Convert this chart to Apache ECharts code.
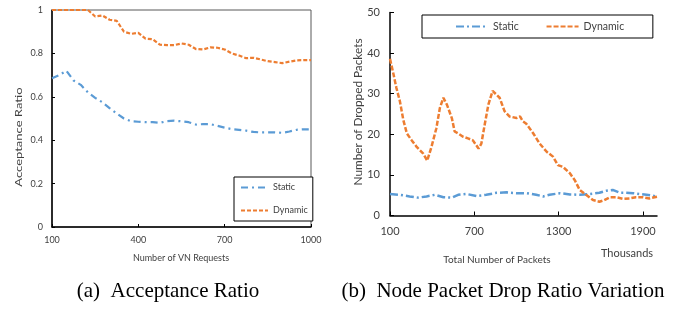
<!DOCTYPE html>
<html>
<head>
  <meta charset="UTF-8">
  <title>Acceptance ratio / packet drops</title>
  <script src="https://cdn.jsdelivr.net/npm/echarts@6/dist/echarts.min.js"></script>
  <style>
    html, body { margin: 0; padding: 0; background: #fff; }
    #main { width: 687px; height: 310px; }
  </style>
</head>
<body>
<div id="main"></div>
<script>
  // (a) acceptance ratio vs number of VN requests
  var reqX = [100,125,150,175,200,225,250,275,300,325,350,375,400,425,450,475,500,525,550,575,600,625,650,675,700,725,750,775,800,825,850,875,900,925,950,975,1000];
  var staticRatio = [0.685,0.7,0.72,0.675,0.655,0.62,0.595,0.575,0.548,0.523,0.5,0.487,0.485,0.483,0.483,0.48,0.488,0.49,0.487,0.483,0.472,0.474,0.474,0.466,0.458,0.451,0.448,0.444,0.438,0.436,0.436,0.436,0.434,0.44,0.448,0.45,0.45];
  var dynamicRatio = [1,1,1,1,1,1,0.97,0.975,0.955,0.95,0.9,0.89,0.895,0.868,0.865,0.84,0.838,0.838,0.846,0.84,0.82,0.818,0.828,0.826,0.818,0.8,0.79,0.778,0.78,0.772,0.764,0.76,0.755,0.762,0.768,0.769,0.769];
  var reqTicks = [100, 400, 700, 1000];

  // (b) dropped packets vs total packets (thousands)
  var dropX = [100,125,145,170,195,220,255,290,335,365,395,430,455,480,505,540,560,585,620,655,690,730,750,775,800,830,880,915,950,1000,1025,1045,1070,1120,1165,1215,1260,1295,1330,1380,1415,1450,1495,1545,1590,1625,1665,1710,1760,1805,1850,1900,1945,2000];
  var dynamicDrops = [38.6,34.8,31.5,28.2,23.5,20.2,18.5,16.9,15.3,13.5,16.9,21.5,26.5,29,27.3,24,20.7,20.2,19.4,19,18.5,16.5,17.7,22.6,27.3,30.7,29,25.7,24.4,24,24.4,23.2,22.6,20.2,17.7,15.7,14.5,12.4,12,10.4,8.7,6.3,5.1,3.8,3.4,3.8,4.5,4.5,4.1,4.2,4.5,4.5,4.2,4.6];
  var staticX = [100,170,240,300,360,420,480,540,585,645,715,785,860,930,1000,1070,1140,1190,1235,1310,1380,1450,1520,1590,1640,1685,1735,1780,1830,1875,1925,2000];
  var staticDrops = [5.3,5.1,4.7,4.4,4.7,5.1,4.5,4.4,5.1,5.3,4.8,5.1,5.6,5.7,5.5,5.5,5.1,4.7,5.1,5.5,5.2,5.1,5.3,5.6,6.1,6.3,5.6,5.6,5.5,5.3,5.1,4.7];
  var packetTicks = [100, 700, 1300, 1900];

  var BLUE = '#5b9bd5', ORANGE = '#ed7d31';
  var FONT = 'Lato';
  var TXT = '#404040';

  function zip(xs, ys) {
    return xs.map(function (x, i) { return [x, ys[i]]; });
  }
  function plain(v) { return String(v); }

  var chart = echarts.init(document.getElementById('main'));
  chart.setOption({
    animation: false,
    textStyle: { fontFamily: FONT },
    grid: [
      { left: 52, top: 10, width: 259, height: 217, show: true, borderColor: '#595959', borderWidth: 1 },
      { left: 390, top: 12.5, width: 267, height: 203 }
    ],
    xAxis: [
      {
        gridIndex: 0, type: 'value', min: 100, max: 1000,
        axisLine: { lineStyle: { color: '#000', width: 1.5 } },
        axisTick: { inside: true, length: 3, customValues: reqTicks, lineStyle: { color: '#000' } },
        axisLabel: { customValues: reqTicks, formatter: plain, color: TXT, fontSize: 9, margin: 9 },
        splitLine: { show: false }
      },
      {
        gridIndex: 1, type: 'value', min: 100, max: 2000,
        axisLine: { lineStyle: { color: '#000', width: 1.5 } },
        axisTick: { inside: true, length: 4, customValues: packetTicks, lineStyle: { color: '#000' } },
        axisLabel: { customValues: packetTicks, formatter: plain, color: TXT, fontSize: 11, margin: 10 },
        splitLine: { show: false }
      }
    ],
    yAxis: [
      {
        gridIndex: 0, type: 'value', min: 0, max: 1, interval: 0.2,
        axisLine: { show: true, lineStyle: { color: '#000', width: 1.5 } },
        axisTick: { show: true, inside: true, length: 3, lineStyle: { color: '#000' } },
        axisLabel: { color: TXT, fontSize: 9, margin: 9 },
        splitLine: { show: false }
      },
      {
        gridIndex: 1, type: 'value', min: 0, max: 50, interval: 10,
        axisLine: { show: true, lineStyle: { color: '#000', width: 1.5 } },
        axisTick: { show: true, inside: true, length: 4, lineStyle: { color: '#000' } },
        axisLabel: { color: TXT, fontSize: 11, margin: 10 },
        splitLine: { show: false }
      }
    ],
    legend: [
      {
        data: ['Static', 'Dynamic'], orient: 'vertical',
        left: 234, top: 177, padding: [6, 5, 6, 6], itemGap: 14,
        itemWidth: 27, itemHeight: 10,
        itemStyle: { opacity: 0 },
        borderColor: '#000', borderWidth: 1, backgroundColor: '#fff',
        textStyle: { color: TXT, fontSize: 9, fontFamily: FONT }
      },
      {
        data: ['Static ', 'Dynamic '], orient: 'horizontal',
        left: 422, top: 15, padding: [6, 26, 6, 33], itemGap: 24,
        itemWidth: 32, itemHeight: 10,
        itemStyle: { opacity: 0 },
        borderColor: '#000', borderWidth: 1, backgroundColor: '#fff',
        textStyle: { color: TXT, fontSize: 10.5, fontFamily: FONT }
      }
    ],
    series: [
      {
        name: 'Static', type: 'line', xAxisIndex: 0, yAxisIndex: 0,
        data: zip(reqX, staticRatio), symbol: 'none', color: BLUE,
        lineStyle: { color: BLUE, width: 2.2, type: [7, 4, 2, 4] }
      },
      {
        name: 'Dynamic', type: 'line', xAxisIndex: 0, yAxisIndex: 0,
        data: zip(reqX, dynamicRatio), symbol: 'none', color: ORANGE,
        lineStyle: { color: ORANGE, width: 2.2, type: [4, 2] }
      },
      {
        name: 'Static ', type: 'line', xAxisIndex: 1, yAxisIndex: 1,
        data: zip(staticX, staticDrops), symbol: 'none', color: BLUE,
        lineStyle: { color: BLUE, width: 2.5, type: [8, 3, 2, 3] }
      },
      {
        name: 'Dynamic ', type: 'line', xAxisIndex: 1, yAxisIndex: 1,
        data: zip(dropX, dynamicDrops), symbol: 'none', color: ORANGE,
        lineStyle: { color: ORANGE, width: 2.5, type: [5, 2] }
      }
    ],
    graphic: [
      { type: 'text', x: 18.5, y: 137, rotation: Math.PI / 2, scaleX: 1.3,
        style: { text: 'Acceptance Ratio', fill: TXT, font: '10px ' + FONT, textAlign: 'center', textVerticalAlign: 'middle' } },
      { type: 'text', x: 181, y: 258,
        style: { text: 'Number of VN Requests', fill: TXT, font: '9px ' + FONT, textAlign: 'center', textVerticalAlign: 'middle' } },
      { type: 'text', x: 358, y: 112, rotation: Math.PI / 2, scaleX: 1.07,
        style: { text: 'Number of Dropped Packets', fill: TXT, font: '11px ' + FONT, textAlign: 'center', textVerticalAlign: 'middle' } },
      { type: 'text', x: 497, y: 260,
        style: { text: 'Total Number of Packets', fill: TXT, font: '10px ' + FONT, textAlign: 'center', textVerticalAlign: 'middle' } },
      { type: 'text', x: 627, y: 253,
        style: { text: 'Thousands', fill: TXT, font: '11px ' + FONT, textAlign: 'center', textVerticalAlign: 'middle' } },
      { type: 'text', x: 168, y: 291.5,
        style: { text: '(a)  Acceptance Ratio', fill: '#000', font: '21px "Liberation Serif"', textAlign: 'center', textVerticalAlign: 'middle' } },
      { type: 'text', x: 503, y: 291.5,
        style: { text: '(b)  Node Packet Drop Ratio Variation', fill: '#000', font: '21px "Liberation Serif"', textAlign: 'center', textVerticalAlign: 'middle' } }
    ]
  });
</script>
</body>
</html>
